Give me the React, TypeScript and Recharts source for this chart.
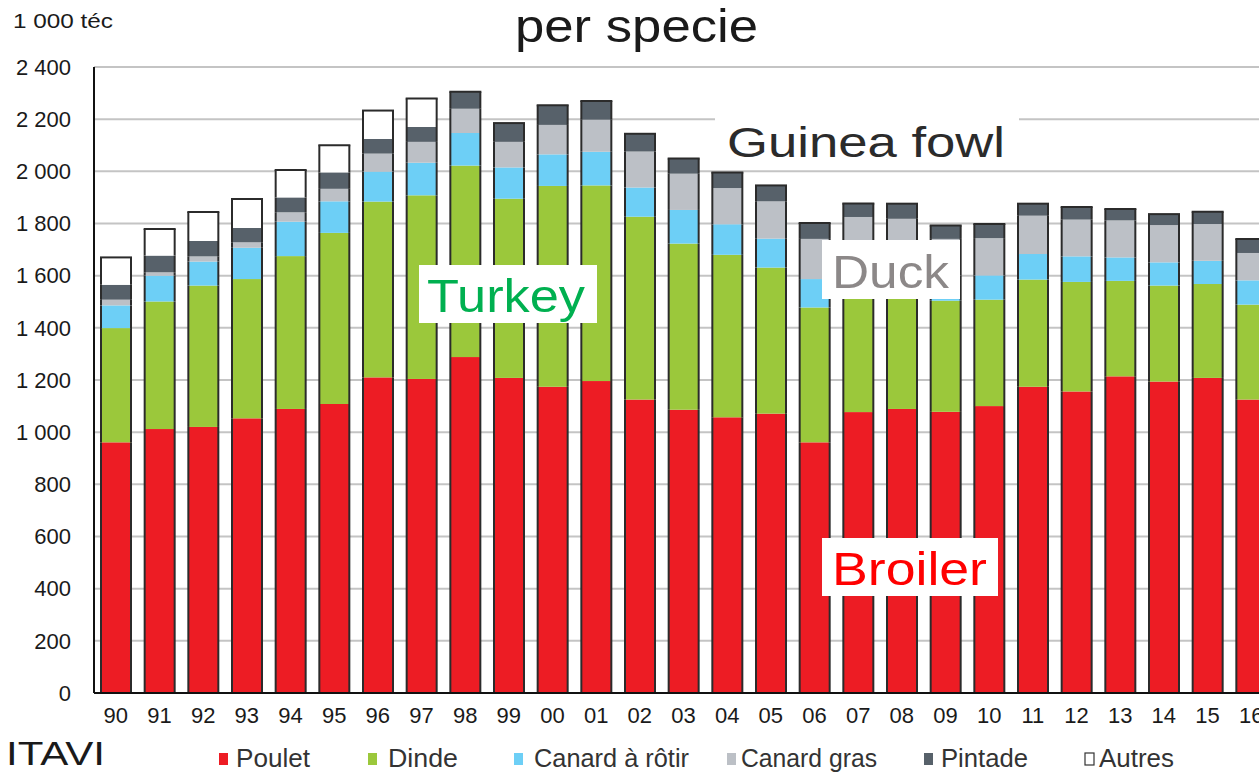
import React from 'react';
import { BarChart, Bar, XAxis, YAxis, CartesianGrid } from 'recharts';

const years = ['90','91','92','93','94','95','96','97','98','99','00','01','02','03','04','05','06','07','08','09','10','11','12','13','14','15','16'];
const poulet = [961,1012,1020,1053,1089,1108,1210,1204,1288,1208,1174,1196,1125,1086,1057,1071,961,1077,1089,1078,1100,1174,1156,1214,1194,1208,1125];
const dinde = [438,489,542,534,586,656,674,704,734,687,770,750,701,637,623,560,517,483,456,426,408,411,420,366,368,360,364];
const canardRotir = [87,99,92,120,132,121,115,125,125,120,121,129,112,129,117,111,109,105,105,96,93,98,98,90,89,89,93];
const canardGras = [22,13,20,21,36,48,69,80,93,98,113,123,138,139,139,143,154,160,168,141,143,147,141,142,143,141,105];
const pintade = [57,64,59,55,57,63,56,57,65,72,75,72,68,58,60,61,61,52,58,51,54,46,48,44,42,47,54];
const autres = [105,102,111,111,105,104,109,109,0,0,0,0,0,0,0,0,0,0,0,0,0,0,0,0,0,0,0];
const yTicks = [0,200,400,600,800,1000,1200,1400,1600,1800,2000,2200,2400];

const seriesKeys = ['poulet','dinde','canardRotir','canardGras','pintade','autres'];
const seriesNames = ['Poulet','Dinde','Canard à rôtir','Canard gras','Pintade','Autres'];
const seriesColors = ['#ed1c24','#9bc83b','#6dcff6','#bcc0c6','#57616a','#ffffff'];

const data = years.map((year, i) => ({
  year,
  poulet: poulet[i],
  dinde: dinde[i],
  canardRotir: canardRotir[i],
  canardGras: canardGras[i],
  pintade: pintade[i],
  autres: autres[i],
}));

const FONT = "'Liberation Sans', Arial, sans-serif";
const OUTLINE = '#2b2b2b';

function makeShape(key: string, fill: string) {
  return (props: any) => {
    const { x, y, width, height, payload } = props;
    if (!height || height <= 0) return <g />;
    const topKey = payload && payload.autres > 0 ? 'autres' : 'pintade';
    return (
      <g>
        <rect x={x} y={y} width={width} height={height} fill={fill} />
        <line x1={x} x2={x} y1={y} y2={y + height} stroke={OUTLINE} strokeWidth={2} />
        <line x1={x + width} x2={x + width} y1={y} y2={y + height} stroke={OUTLINE} strokeWidth={2} />
        {key === topKey && <line x1={x - 1} x2={x + width + 1} y1={y} y2={y} stroke={OUTLINE} strokeWidth={2} />}
      </g>
    );
  };
}

const fmt = (v: number) => {
  if (v >= 1000) {
    const th = Math.floor(v / 1000);
    const rest = String(v % 1000).padStart(3, '0');
    return `${th} ${rest}`;
  }
  return String(v);
};

const legendPos = [
  { sq: 219, tx: 236, w: 74 },
  { sq: 368, tx: 388, w: 70 },
  { sq: 514, tx: 534, w: 155 },
  { sq: 727, tx: 741, w: 136 },
  { sq: 924, tx: 941, w: 87 },
  { sq: 1085, tx: 1099, w: 75 },
];

const Overlay = () => (
  <svg width={1259} height={773} style={{ position: 'absolute', left: 0, top: 0, pointerEvents: 'none', fontFamily: FONT }}>
    <text x={515} y={42} fontSize={46} fill="#1a1a1a" textLength={243} lengthAdjust="spacingAndGlyphs">per specie</text>
    <text x={13} y={28} fontSize={21} fill="#1a1a1a" textLength={100} lengthAdjust="spacingAndGlyphs">1 000 téc</text>

    <rect x={715} y={104} width={304} height={64} fill="#ffffff" />
    <text x={727} y={157} fontSize={43} fill="#2b2b2b" textLength={278} lengthAdjust="spacingAndGlyphs">Guinea fowl</text>

    <rect x={419} y={265} width={178} height={58} fill="#ffffff" />
    <text x={427} y={312} fontSize={46} fill="#00b050" textLength={158} lengthAdjust="spacingAndGlyphs">Turkey</text>

    <rect x={822} y={240} width={138} height={59} fill="#ffffff" />
    <text x={832} y={288} fontSize={47} fill="#8c8888" textLength={117} lengthAdjust="spacingAndGlyphs">Duck</text>

    <rect x={822} y={538} width={176} height={58} fill="#ffffff" />
    <text x={832} y={585} fontSize={47} fill="#ff0000" textLength={155} lengthAdjust="spacingAndGlyphs">Broiler</text>

    <text x={6} y={765} fontSize={34} fill="#1a1a1a" textLength={99} lengthAdjust="spacingAndGlyphs">ITAVI</text>
    {seriesNames.map((name, i) => (
      <g key={name}>
        <rect x={legendPos[i].sq} y={753} width={9} height={12}
          fill={seriesColors[i]} stroke={i === 5 ? '#333' : 'none'} strokeWidth={1.2} />
        <text x={legendPos[i].tx} y={767} fontSize={25} fill="#333" textLength={legendPos[i].w} lengthAdjust="spacingAndGlyphs">{name}</text>
      </g>
    ))}
  </svg>
);

export default function App() {
  return (
    <div style={{ position: 'absolute', left: 0, top: 0, width: 1259, height: 773, overflow: 'hidden', background: '#fff' }}>
      <BarChart width={1273} height={773} data={data} margin={{ top: 67, right: 0, bottom: 0, left: 0 }} barSize={30}>
        <CartesianGrid vertical={false} stroke="#c4c4c4" strokeWidth={2} />
        <XAxis dataKey="year" height={80} axisLine={{ stroke: '#111', strokeWidth: 2 }} tickLine={false}
          tickMargin={8} interval={0} tick={{ fontSize: 22, fill: '#1a1a1a', fontFamily: FONT }} />
        <YAxis width={94} domain={[0, 2400]} ticks={yTicks} tickFormatter={fmt}
          axisLine={{ stroke: '#111', strokeWidth: 2 }} tickLine={false} tickMargin={17}
          tick={{ fontSize: 22, fill: '#1a1a1a', fontFamily: FONT }} />
        {seriesKeys.map((k, i) => (
          <Bar key={k} dataKey={k} name={seriesNames[i]} stackId="a" fill={seriesColors[i]}
            isAnimationActive={false} shape={makeShape(k, seriesColors[i])} />
        ))}
      </BarChart>
      <Overlay />
    </div>
  );
}
